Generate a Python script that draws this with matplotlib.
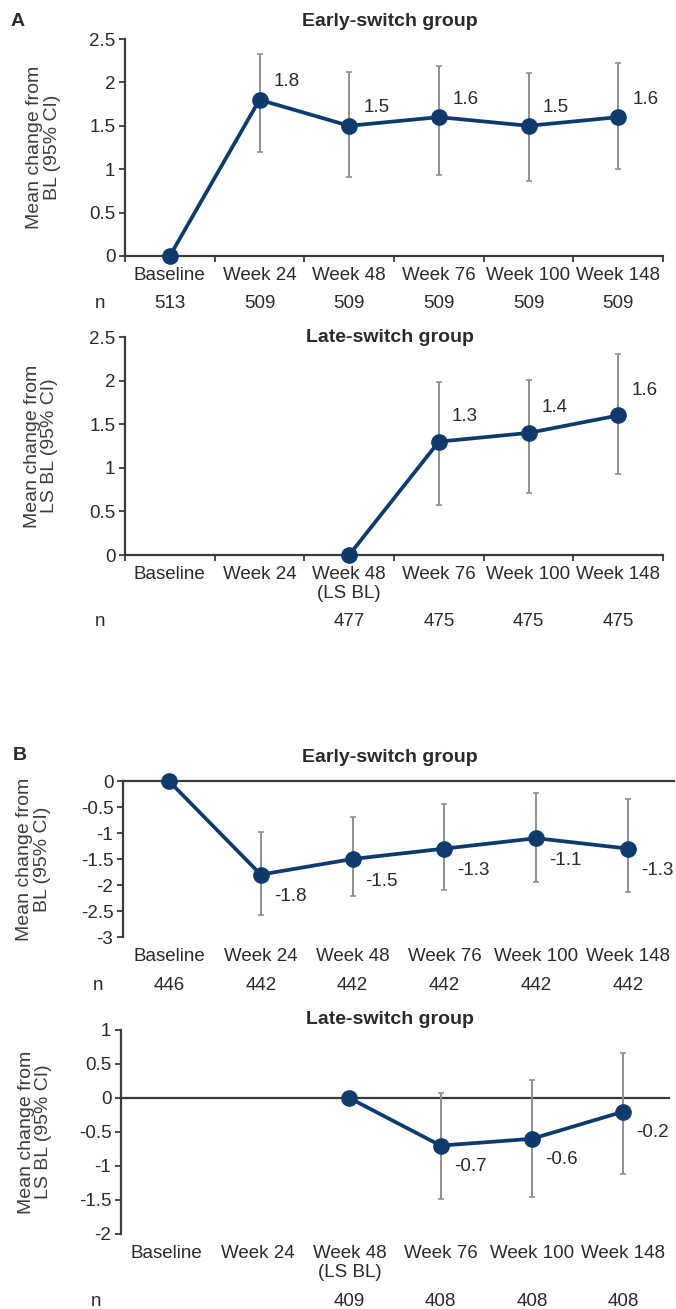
import numpy as np
import matplotlib
matplotlib.use('Agg')
import matplotlib.pyplot as plt

plt.rcParams['font.family'] = ['Liberation Sans', 'DejaVu Sans']
plt.rcParams['axes.unicode_minus'] = False

nan = np.nan
weeks = ['Baseline', 'Week 24', 'Week 48', 'Week 76', 'Week 100', 'Week 148']
weeks_ls = ['Baseline', 'Week 24', 'Week 48\n(LS BL)', 'Week 76', 'Week 100', 'Week 148']

# panel A - early switch
a_early_mean = [0, 1.8, 1.5, 1.6, 1.5, 1.6]
a_early_lo = [nan, 1.20, 0.91, 0.93, 0.86, 1.00]
a_early_hi = [nan, 2.33, 2.12, 2.19, 2.11, 2.22]
a_early_n = ['513', '509', '509', '509', '509', '509']

# panel A - late switch
a_late_mean = [nan, nan, 0, 1.3, 1.4, 1.6]
a_late_lo = [nan, nan, nan, 0.57, 0.71, 0.93]
a_late_hi = [nan, nan, nan, 1.98, 2.01, 2.30]
a_late_n = ['', '', '477', '475', '475', '475']

# panel B - early switch
b_early_mean = [0, -1.8, -1.5, -1.3, -1.1, -1.3]
b_early_lo = [nan, -2.58, -2.22, -2.10, -1.95, -2.14]
b_early_hi = [nan, -0.98, -0.70, -0.45, -0.24, -0.35]
b_early_n = ['446', '442', '442', '442', '442', '442']

# panel B - late switch
b_late_mean = [nan, nan, 0, -0.7, -0.6, -0.2]
b_late_lo = [nan, nan, nan, -1.49, -1.45, -1.12]
b_late_hi = [nan, nan, nan, 0.08, 0.26, 0.66]
b_late_n = ['', '', '409', '408', '408', '408']

W, H = 676, 1309
LINE = '#0f3b6c'
ERR = '#8f8f8f'
AX = '#3a3a3a'
TXT = '#2a2a2a'
FS = 13.5

fig = plt.figure(figsize=(W / 100, H / 100), dpi=100)


def px_rect(left, right, top, bottom):
    return [left / W, 1 - bottom / H, (right - left) / W, (bottom - top) / H]


def panel(rect, ylabel, ylab_x, labels, mean, lo, hi, n, ylim, yticks,
          lab_off, n_off, neg=False):
    ax = fig.add_axes(px_rect(*rect))
    mean = np.array(mean, float)
    lo = np.array(lo, float)
    hi = np.array(hi, float)
    x = np.arange(len(labels))

    ax.set_xlim(-0.5, len(labels) - 0.5)
    ax.set_ylim(*ylim)
    for s in ['top', 'right']:
        ax.spines[s].set_visible(False)
    ax.spines['left'].set_color(AX)
    ax.spines['left'].set_linewidth(1.6)
    if neg:
        ax.spines['bottom'].set_visible(False)
        ax.axhline(0, color=AX, lw=1.6, zorder=1, clip_on=False)
    else:
        ax.spines['bottom'].set_color(AX)
        ax.spines['bottom'].set_linewidth(1.6)

    ax.set_yticks(yticks)
    ax.set_yticklabels([f'{t:g}' for t in yticks])
    ax.tick_params(axis='y', direction='out', length=4, width=1.3, color=AX,
                   labelsize=FS, labelcolor=TXT, pad=3)
    ax.set_xticks(x)
    ax.set_xticklabels(labels)
    ax.tick_params(axis='x', which='major', length=0, labelsize=FS,
                   labelcolor=TXT, pad=8)
    if not neg:
        ax.set_xticks(np.arange(len(labels) + 1) - 0.5, minor=True)
        ax.tick_params(axis='x', which='minor', direction='out', length=4,
                       width=1.3, color=AX)
    for t in ax.get_xticklabels():
        t.set_linespacing(1.15)

    m = ~np.isnan(lo)
    ax.errorbar(x[m], mean[m], yerr=[mean[m] - lo[m], hi[m] - mean[m]],
                fmt='none', ecolor=ERR, elinewidth=1.4, capsize=2.5,
                capthick=1.2, zorder=2, clip_on=False)
    k = ~np.isnan(mean)
    ax.plot(x[k], mean[k], '-o', color=LINE, lw=2.7, ms=11, zorder=3,
            clip_on=False)

    # value labels, offsets given in pixels (down positive)
    for xi, v in zip(x[m], mean[m]):
        ax.annotate(f'{v:.1f}', (xi, v),
                    xytext=(lab_off[0] * 0.72, -lab_off[1] * 0.72),
                    textcoords='offset points', ha='left', va='center',
                    fontsize=FS, color=TXT)

    # n row
    ax.annotate('n', (0, 0), xycoords='axes fraction',
                xytext=(-25 * 0.72, -n_off * 0.72), textcoords='offset points',
                ha='center', va='center', fontsize=FS, color=TXT)
    for xi, s in zip(x, n):
        if s:
            ax.annotate(s, (xi, 0), xycoords=('data', 'axes fraction'),
                        xytext=(0, -n_off * 0.72), textcoords='offset points',
                        ha='center', va='center', fontsize=FS, color=TXT)

    ax.text(ylab_x, 0.5, ylabel, transform=ax.transAxes, rotation=90,
            ha='center', va='center', multialignment='center', fontsize=FS + 0.5,
            color='#3c3c3c', linespacing=1.05)
    return ax


panel((125, 663, 39, 256), 'Mean change from\nBL (95% CI)', -0.151,
      weeks, a_early_mean, a_early_lo, a_early_hi, a_early_n,
      (0, 2.5), [0, 0.5, 1, 1.5, 2, 2.5], (14, -18), 47)
panel((125, 663, 337, 555), 'Mean change from\nLS BL (95% CI)', -0.156,
      weeks_ls, a_late_mean, a_late_lo, a_late_hi, a_late_n,
      (0, 2.5), [0, 0.5, 1, 1.5, 2, 2.5], (13, -25), 67)
panel((123, 674, 781, 937), 'Mean change from\nBL (95% CI)', -0.162,
      weeks, b_early_mean, b_early_lo, b_early_hi, b_early_n,
      (-3, 0), [-3, -2.5, -2, -1.5, -1, -0.5, 0], (13, 22), 48, neg=True)
panel((121, 669, 1030, 1234), 'Mean change from\nLS BL (95% CI)', -0.157,
      weeks_ls, b_late_mean, b_late_lo, b_late_hi, b_late_n,
      (-2, 1), [-2, -1.5, -1, -0.5, 0, 0.5, 1], (13, 21), 68, neg=True)

# titles and panel letters in pixel positions
for ty, tt in [(22, 'Early-switch group'), (337, 'Late-switch group'),
               (757, 'Early-switch group'), (1020, 'Late-switch group')]:
    fig.text(390 / W, 1 - ty / H, tt, ha='center', va='center',
             fontsize=14, fontweight='bold', color=TXT)
fig.text(18 / W, 1 - 22 / H, 'A', ha='center', va='center', fontsize=14,
         fontweight='bold', color=TXT)
fig.text(20 / W, 1 - 755 / H, 'B', ha='center', va='center', fontsize=14,
         fontweight='bold', color=TXT)

fig.savefig('out.png', dpi=100)
